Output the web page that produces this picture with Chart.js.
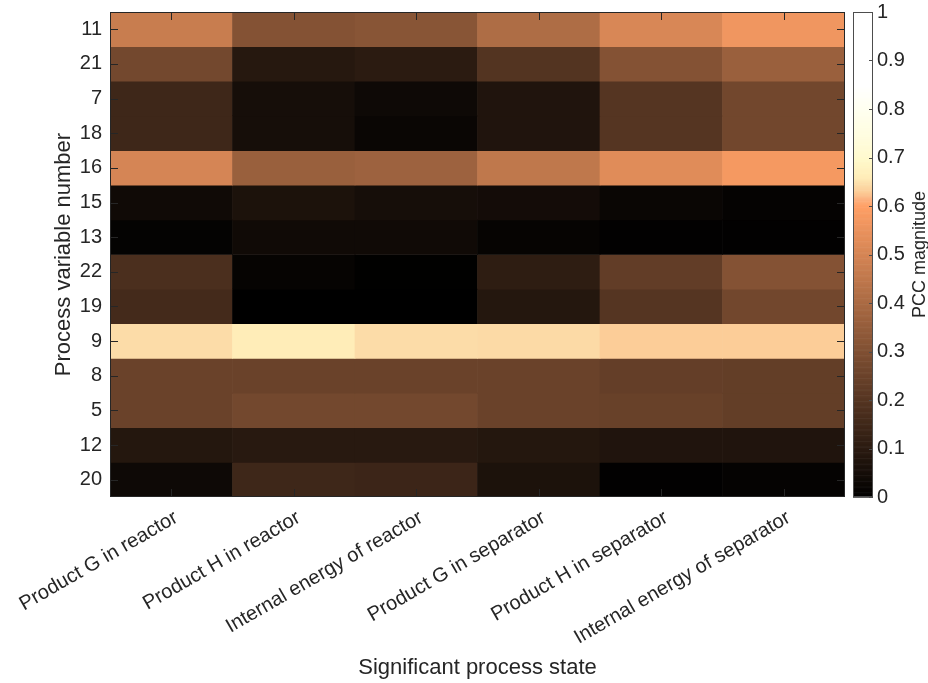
<!DOCTYPE html>
<html>
<head>
<meta charset="utf-8">
<script src="https://cdn.jsdelivr.net/npm/chart.js@4.4.0/dist/chart.umd.min.js"></script>
<style>
html,body{margin:0;padding:0;background:#ffffff;}
#wrap{width:928px;height:683px;position:relative;}
</style>
</head>
<body>
<div id="wrap"><canvas id="c" width="928" height="683"></canvas></div>
<script>
// Row labels (process variable numbers), top to bottom
const processVariables = ['11','21','7','18','16','15','13','22','19','9','8','5','12','20'];
// Column labels (significant process states)
const processStates = ['Product G in reactor','Product H in reactor','Internal energy of reactor','Product G in separator','Product H in separator','Internal energy of separator'];

// PCC magnitude per column, rows in the order of processVariables
const productGReactor     = [0.47, 0.27, 0.146, 0.146, 0.50, 0.038, 0.010, 0.176, 0.160, 0.645, 0.25, 0.25, 0.085, 0.033];
const productHReactor     = [0.31, 0.09, 0.052, 0.052, 0.36, 0.066, 0.038, 0.014, 0.000, 0.660, 0.25, 0.27, 0.094, 0.146];
const energyReactor       = [0.32, 0.10, 0.033, 0.024, 0.37, 0.052, 0.038, 0.002, 0.000, 0.645, 0.25, 0.27, 0.094, 0.140];
const productGSeparator   = [0.41, 0.195, 0.075, 0.075, 0.45, 0.047, 0.014, 0.108, 0.085, 0.643, 0.25, 0.25, 0.085, 0.066];
const productHSeparator   = [0.508, 0.31, 0.20, 0.20, 0.527, 0.024, 0.005, 0.23, 0.20, 0.630, 0.235, 0.245, 0.075, 0.005];
const energySeparator     = [0.565, 0.362, 0.268, 0.268, 0.576, 0.012, 0.005, 0.31, 0.268, 0.630, 0.233, 0.233, 0.075, 0.012];

const columns = [productGReactor, productHReactor, energyReactor, productGSeparator, productHSeparator, energySeparator];

const colorbarMin = 0;
const colorbarMax = 1;
const colorbarStep = 0.1;

const FONT = '"Liberation Sans", Arial, Helvetica, sans-serif';
const INK = '#262626';

// copper-like colormap that turns to pale yellow / white at the top
function cmap(v) {
  v = Math.max(0, Math.min(1, v));
  if (v <= 0.6) {
    const r = Math.min(255, 255 * v / 0.6);
    const g = 255 * 1.0416 * v;
    const b = 255 * 0.6633 * v;
    return `rgb(${Math.round(r)},${Math.round(g)},${Math.round(b)})`;
  }
  const stops = [
    [0.6, 255, 159, 101],
    [0.615, 252, 178, 128],
    [0.63, 252, 205, 152],
    [0.645, 252, 220, 168],
    [0.66, 255, 237, 184],
    [0.70, 255, 250, 205],
    [0.75, 255, 253, 225],
    [0.80, 255, 255, 240],
    [0.85, 255, 255, 255],
    [1.0, 255, 255, 255]
  ];
  for (let i = 0; i < stops.length - 1; i++) {
    const a = stops[i], b = stops[i + 1];
    if (v >= a[0] && v <= b[0]) {
      const t = (v - a[0]) / (b[0] - a[0]);
      const c = [1, 2, 3].map(k => Math.round(a[k] + (b[k] - a[k]) * t));
      return `rgb(${c[0]},${c[1]},${c[2]})`;
    }
  }
  return 'rgb(255,255,255)';
}

const datasets = processVariables.map((pv, i) => ({
  label: pv,
  data: processStates.map(() => [i, i + 1]),
  backgroundColor: columns.map(col => cmap(col[i])),
  borderWidth: 0,
  grouped: false,
  barPercentage: 1,
  categoryPercentage: 1
}));

const heatFrame = {
  id: 'heatFrame',
  afterDraw(chart) {
    const {ctx, chartArea: a, scales} = chart;
    const x = scales.x, y = scales.y, yc = scales.yc;
    ctx.save();
    ctx.strokeStyle = INK;
    ctx.lineWidth = 1;
    ctx.beginPath();
    y.ticks.forEach((t, i) => {
      const p = Math.round(y.getPixelForTick(i)) + 0.5;
      ctx.moveTo(a.left, p); ctx.lineTo(a.left + 8, p);
      ctx.moveTo(a.right, p); ctx.lineTo(a.right - 8, p);
    });
    x.ticks.forEach((t, i) => {
      const p = Math.round(x.getPixelForTick(i)) + 0.5;
      ctx.moveTo(p, a.top); ctx.lineTo(p, a.top + 8);
      ctx.moveTo(p, a.bottom); ctx.lineTo(p, a.bottom - 8);
    });
    ctx.stroke();
    ctx.strokeRect(Math.round(a.left) + 0.5, Math.round(a.top) + 0.5, Math.round(a.right - a.left) - 1, Math.round(a.bottom - a.top) - 1);

    // colorbar
    const cx0 = Math.round(a.right) + 8, cw = 20;
    const N = 400;
    for (let k = 0; k < N; k++) {
      const v0 = colorbarMin + (colorbarMax - colorbarMin) * k / N;
      const v1 = colorbarMin + (colorbarMax - colorbarMin) * (k + 1) / N;
      const p0 = yc.getPixelForValue(v0), p1 = yc.getPixelForValue(v1);
      ctx.fillStyle = cmap((v0 + v1) / 2);
      ctx.fillRect(cx0, p1, cw, p0 - p1 + 0.6);
    }
    const ct = Math.round(yc.getPixelForValue(colorbarMax)), cb = Math.round(yc.getPixelForValue(colorbarMin));
    ctx.strokeStyle = '#4d4d4d';
    ctx.strokeRect(cx0 + 0.5, ct + 0.5, cw - 1, cb - ct - 1);
    ctx.beginPath();
    yc.ticks.forEach((t, i) => {
      const p = Math.round(yc.getPixelForTick(i)) + 0.5;
      ctx.moveTo(cx0 + cw, p); ctx.lineTo(cx0 + cw - 4, p);
    });
    ctx.stroke();

    // colorbar label
    ctx.translate(yc.right - 8, (a.top + a.bottom) / 2);
    ctx.rotate(-Math.PI / 2);
    ctx.fillStyle = INK;
    ctx.font = '18px ' + FONT;
    ctx.textAlign = 'center';
    ctx.textBaseline = 'middle';
    ctx.fillText('PCC magnitude', 0, 0);
    ctx.restore();
  }
};

Chart.defaults.font.family = FONT;
Chart.defaults.color = INK;

function noPad(s) { s.paddingTop = 0; s.paddingBottom = 0; s.paddingLeft = 0; s.paddingRight = 0; }

new Chart(document.getElementById('c'), {
  type: 'bar',
  data: { labels: processStates, datasets },
  options: {
    responsive: false,
    animation: false,
    events: [],
    layout: { padding: { top: 12, left: 0, right: 0, bottom: 0 } },
    plugins: { legend: { display: false }, tooltip: { enabled: false } },
    scales: {
      x: {
        type: 'category',
        position: 'bottom',
        offset: true,
        grid: { display: false, drawTicks: false },
        border: { display: false },
        ticks: {
          autoSkip: false, minRotation: 30, maxRotation: 30,
          font: { size: 20 }, color: INK, padding: 9, labelOffset: 5
        },
        title: {
          display: true, text: 'Significant process state',
          font: { size: 22 }, color: INK, padding: { top: 0, bottom: 2 }
        },
        afterFit(s) { s.height = 186; noPad(s); }
      },
      y: {
        type: 'linear',
        position: 'left',
        min: 0, max: processVariables.length,
        reverse: true,
        grid: { display: false, drawTicks: false },
        border: { display: false },
        afterBuildTicks(s) { s.ticks = processVariables.map((_, i) => ({ value: i + 0.5 })); },
        ticks: {
          font: { size: 20 }, color: INK, padding: 8,
          callback: (v, idx) => processVariables[idx]
        },
        title: {
          display: true, text: 'Process variable number',
          font: { size: 22 }, color: INK, padding: { top: 51, bottom: 0 }
        },
        afterFit(s) { s.width = 110; noPad(s); }
      },
      yc: {
        type: 'linear',
        display: true,
        position: 'right',
        min: colorbarMin, max: colorbarMax,
        grid: { display: false, drawTicks: false },
        border: { display: false },
        ticks: {
          stepSize: colorbarStep, font: { size: 20 }, color: INK, padding: 32,
          callback: (v) => String(+v.toFixed(1))
        },
        afterFit(s) { s.width = 83; noPad(s); }
      }
    }
  },
  plugins: [heatFrame]
});
</script>
</body>
</html>
